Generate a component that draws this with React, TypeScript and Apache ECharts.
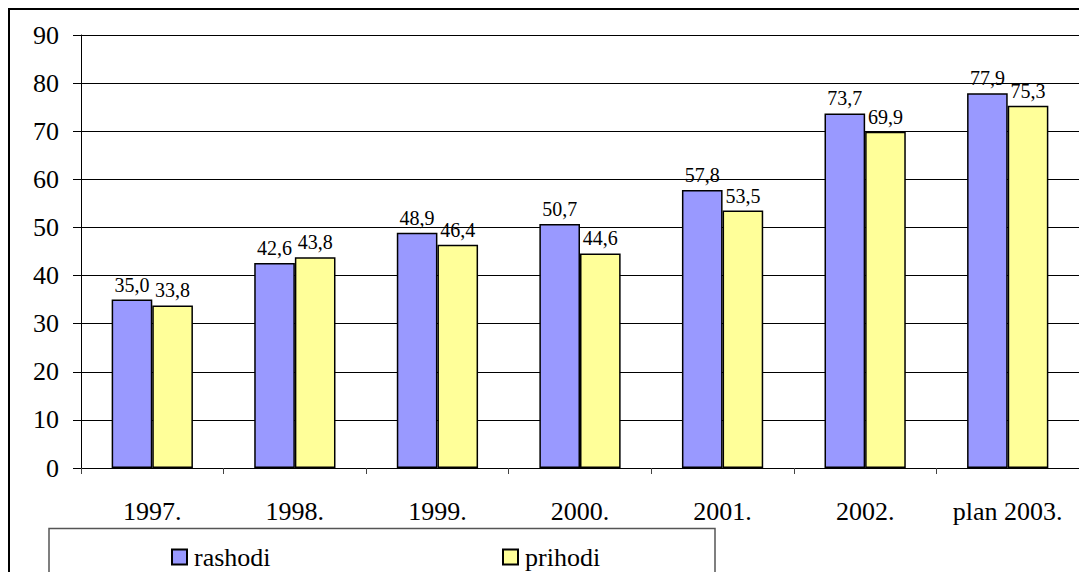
import React, { useEffect, useRef } from "react";
import * as echarts from "echarts";

const categories = ["1997.", "1998.", "1999.", "2000.", "2001.", "2002.", "plan 2003."];
const rashodi = [35.0, 42.6, 48.9, 50.7, 57.8, 73.7, 77.9];
const prihodi = [33.8, 43.8, 46.4, 44.6, 53.5, 69.9, 75.3];
const seriesNames = ["rashodi", "prihodi"];
const seriesColors = ["#9999FF", "#FFFF99"];

const FONT = "Liberation Serif";

export default function App() {
  const ref = useRef<HTMLDivElement>(null);
  useEffect(() => {
    if (!ref.current) return;
    const chart = echarts.init(ref.current, null, { renderer: "svg" });
    const fmt = (p: any) => Number(p.value).toFixed(1).replace(".", ",");
    const mk = (name: string, data: number[], color: string) => ({
      name,
      type: "bar",
      data,
      barGap: "0%",
      barCategoryGap: "43%",
      itemStyle: { color, borderColor: "#000", borderWidth: 1.5 },
      label: {
        show: true,
        position: "top",
        distance: 5,
        formatter: fmt,
        fontFamily: FONT,
        fontSize: 20,
        color: "#000",
      },
    });
    chart.setOption({
      animation: false,
      backgroundColor: "#fff",
      textStyle: { fontFamily: FONT },
      grid: { left: 81, top: 35, width: 1013, height: 433, containLabel: false },
      legend: [
        {
          data: [seriesNames[0]],
          left: 166,
          top: 539,
          icon: "rect",
          itemWidth: 15,
          itemHeight: 15,
          textStyle: { fontFamily: FONT, fontSize: 26, color: "#000", padding: [0, 0, 0, 2] },
        },
        {
          data: [seriesNames[1]],
          left: 497,
          top: 539,
          icon: "rect",
          itemWidth: 15,
          itemHeight: 15,
          textStyle: { fontFamily: FONT, fontSize: 26, color: "#000", padding: [0, 0, 0, 2] },
        },
      ],
      xAxis: {
        type: "category",
        data: categories,
        axisLine: { lineStyle: { color: "#000", width: 1 } },
        axisTick: { show: true, length: 6, lineStyle: { color: "#444" } },
        axisLabel: { fontFamily: FONT, fontSize: 26, color: "#000", margin: 30, interval: 0 },
      },
      yAxis: {
        type: "value",
        min: 0,
        max: 90,
        interval: 10,
        axisLine: { show: true, lineStyle: { color: "#000", width: 1 } },
        axisTick: { show: true, length: 8, lineStyle: { color: "#000" } },
        axisLabel: { fontFamily: FONT, fontSize: 26, color: "#000", margin: 22 },
        splitLine: { show: true, lineStyle: { color: "#000", width: 1 } },
      },
      graphic: [
        {
          type: "rect",
          shape: { x: 9, y: 9, width: 1200, height: 700 },
          style: { fill: "none", stroke: "#000", lineWidth: 2 },
          silent: true,
        },
        {
          type: "rect",
          shape: { x: 49, y: 528.5, width: 666, height: 100 },
          style: { fill: "none", stroke: "#555", lineWidth: 1.5 },
          silent: true,
        },
      ],
      series: [
        mk(seriesNames[0], rashodi, seriesColors[0]),
        mk(seriesNames[1], prihodi, seriesColors[1]),
      ],
    });
    return () => chart.dispose();
  }, []);
  return (
    <div
      ref={ref}
      style={{ position: "fixed", left: 0, top: 0, width: 1079, height: 572 }}
    />
  );
}
